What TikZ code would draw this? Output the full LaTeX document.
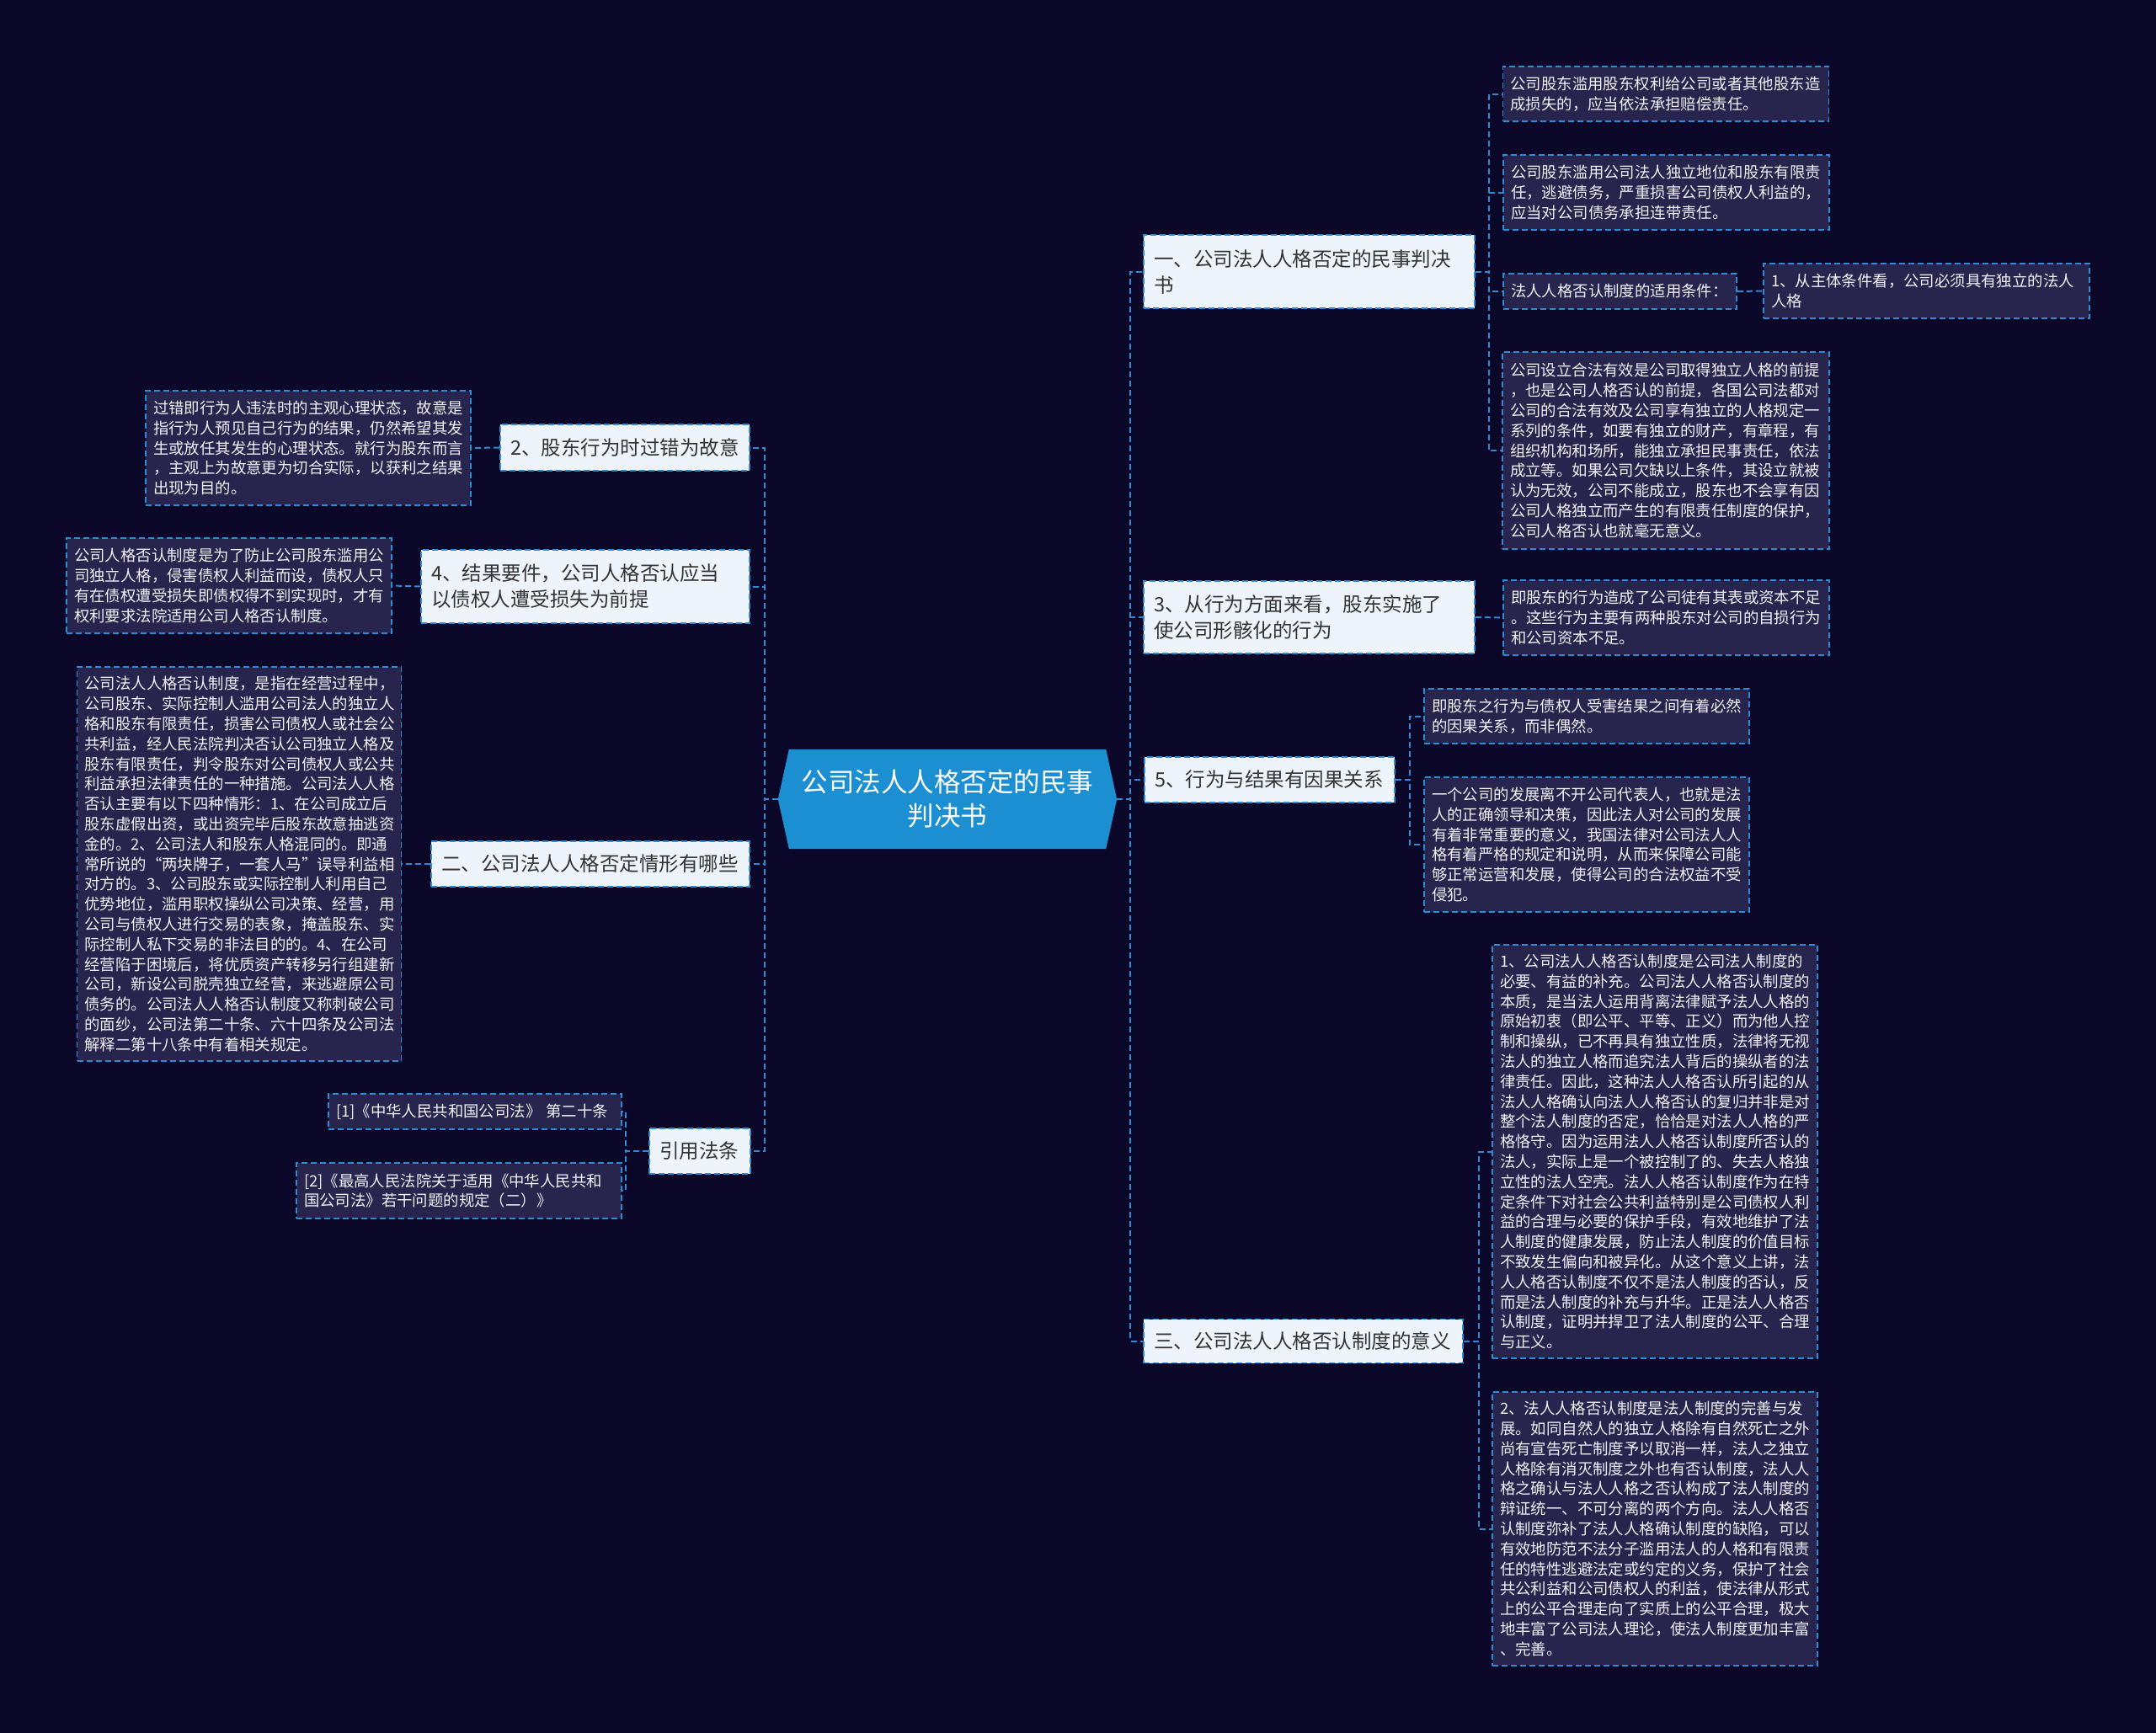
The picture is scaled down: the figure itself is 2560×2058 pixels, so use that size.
\documentclass[tikz,border=0pt]{standalone}
\usepackage{fontspec}
\newfontfamily\cjk{Noto Sans CJK SC}
\usetikzlibrary{calc,backgrounds}
\definecolor{bgc}{HTML}{0A0729}
\definecolor{leaffill}{HTML}{27244E}
\definecolor{edgec}{HTML}{2E8BD6}
\definecolor{branchfill}{HTML}{EEF4FC}
\definecolor{rootfill}{HTML}{1B8FD2}
\definecolor{darktext}{HTML}{333333}
\definecolor{lighttext}{HTML}{F2F2F7}
\tikzset{
  conn/.style={draw=edgec, line width=2pt, dash pattern=on 7pt off 4pt},
  leaf/.style={draw=edgec, fill=leaffill, line width=1.8pt, dash pattern=on 7pt off 4pt,
    text=lighttext, font=\cjk\fontsize{18.4}{23.8}\selectfont, align=left,
    inner xsep=9pt, inner ysep=0pt, anchor=center},
  branch/.style={draw=edgec, fill=branchfill, line width=1.8pt, dash pattern=on 7pt off 4pt,
    text=darktext, font=\cjk\fontsize{23.5}{31}\selectfont, align=left,
    inner xsep=12pt, inner ysep=0pt, anchor=center},
  rootnode/.style={text=white, font=\cjk\fontsize{31.5}{40}\selectfont, align=center,
    minimum width=402pt, minimum height=118pt, inner sep=0pt, anchor=center},
}
\begin{document}
\begin{tikzpicture}[x=1pt,y=-1pt]
\useasboundingbox (0,0) rectangle (2560,2058);
\begin{scope}[on background layer]
\fill[bgc] (0,0) rectangle (2560,2058);
\end{scope}

% root
\node[rootnode] (root) at (1125,949) {公司法人人格否定的民事\\判决书};
\begin{scope}[on background layer]
\fill[rootfill] (root.west) -- ($(root.north west)+(13,0)$) -- ($(root.north east)+(-13,0)$)
  -- (root.east) -- ($(root.south east)+(-13,0)$) -- ($(root.south west)+(13,0)$) -- cycle;
\end{scope}

% right branches
\node[branch, text width=369pt, minimum height=87pt] (n1) at (1554.5,322.5) {一、公司法人人格否定的民事判决\\书};
\node[branch, text width=369pt, minimum height=86pt] (n3) at (1554.5,733) {3、从行为方面来看，股东实施了\\使公司形骸化的行为};
\node[branch, text width=273pt, minimum height=54pt] (n5) at (1507.5,926) {5、行为与结果有因果关系};
\node[branch, text width=355pt, minimum height=52pt] (n6) at (1547.5,1592.5) {三、公司法人人格否认制度的意义};

% left branches
\node[branch, text width=272pt, minimum height=55pt] (n2) at (742,531.5) {2、股东行为时过错为故意};
\node[branch, text width=366pt, minimum height=87pt] (n4) at (695,696.5) {4、结果要件，公司人格否认应当\\以债权人遭受损失为前提};
\node[branch, text width=354pt, minimum height=54pt] (n7) at (701,1026) {二、公司法人人格否定情形有哪些};
\node[branch, text width=96pt, minimum height=54pt] (n8) at (831,1367) {引用法条};

% leaves right
\node[leaf, text width=369pt, minimum height=65pt] (lA) at (1978,111.5) {公司股东滥用股东权利给公司或者其他股东造\\成损失的，应当依法承担赔偿责任。};
\node[leaf, text width=369pt, minimum height=89pt] (lB) at (1978.5,228.5) {公司股东滥用公司法人独立地位和股东有限责\\任，逃避债务，严重损害公司债权人利益的，\\应当对公司债务承担连带责任。};
\node[leaf, text width=259pt, minimum height=42pt] (lC) at (1923.5,346) {法人人格否认制度的适用条件：};
\node[leaf, text width=369pt, minimum height=65pt] (lD) at (2287.5,345.5) {1、从主体条件看，公司必须具有独立的法人\\人格};
\node[leaf, text width=370pt, minimum height=234pt] (lE) at (1978,535) {公司设立合法有效是公司取得独立人格的前提\\，也是公司人格否认的前提，各国公司法都对\\公司的合法有效及公司享有独立的人格规定一\\系列的条件，如要有独立的财产，有章程，有\\组织机构和场所，能独立承担民事责任，依法\\成立等。如果公司欠缺以上条件，其设立就被\\认为无效，公司不能成立，股东也不会享有因\\公司人格独立而产生的有限责任制度的保护，\\公司人格否认也就毫无意义。};
\node[leaf, text width=369pt, minimum height=89pt] (lF) at (1978.5,733.5) {即股东的行为造成了公司徒有其表或资本不足\\。这些行为主要有两种股东对公司的自损行为\\和公司资本不足。};
\node[leaf, text width=368pt, minimum height=65pt] (lG) at (1884,850.5) {即股东之行为与债权人受害结果之间有着必然\\的因果关系，而非偶然。};
\node[leaf, text width=368pt, minimum height=160pt] (lH) at (1884,1003) {一个公司的发展离不开公司代表人，也就是法\\人的正确领导和决策，因此法人对公司的发展\\有着非常重要的意义，我国法律对公司法人人\\格有着严格的规定和说明，从而来保障公司能\\够正常运营和发展，使得公司的合法权益不受\\侵犯。};
\node[leaf, text width=368pt, minimum height=491pt] (lI) at (1965,1367.5) {1、公司法人人格否认制度是公司法人制度的\\必要、有益的补充。公司法人人格否认制度的\\本质，是当法人运用背离法律赋予法人人格的\\原始初衷（即公平、平等、正义）而为他人控\\制和操纵，已不再具有独立性质，法律将无视\\法人的独立人格而追究法人背后的操纵者的法\\律责任。因此，这种法人人格否认所引起的从\\法人人格确认向法人人格否认的复归并非是对\\整个法人制度的否定，恰恰是对法人人格的严\\格恪守。因为运用法人人格否认制度所否认的\\法人，实际上是一个被控制了的、失去人格独\\立性的法人空壳。法人人格否认制度作为在特\\定条件下对社会公共利益特别是公司债权人利\\益的合理与必要的保护手段，有效地维护了法\\人制度的健康发展，防止法人制度的价值目标\\不致发生偏向和被异化。从这个意义上讲，法\\人人格否认制度不仅不是法人制度的否认，反\\而是法人制度的补充与升华。正是法人人格否\\认制度，证明并捍卫了法人制度的公平、合理\\与正义。};
\node[leaf, text width=368pt, minimum height=325pt] (lJ) at (1965,1815.5) {2、法人人格否认制度是法人制度的完善与发\\展。如同自然人的独立人格除有自然死亡之外\\尚有宣告死亡制度予以取消一样，法人之独立\\人格除有消灭制度之外也有否认制度，法人人\\格之确认与法人人格之否认构成了法人制度的\\辩证统一、不可分离的两个方向。法人人格否\\认制度弥补了法人人格确认制度的缺陷，可以\\有效地防范不法分子滥用法人的人格和有限责\\任的特性逃避法定或约定的义务，保护了社会\\共公利益和公司债权人的利益，使法律从形式\\上的公平合理走向了实质上的公平合理，极大\\地丰富了公司法人理论，使法人制度更加丰富\\、完善。};

% leaves left
\node[leaf, text width=368pt, minimum height=136pt] (lK) at (366,532) {过错即行为人违法时的主观心理状态，故意是\\指行为人预见自己行为的结果，仍然希望其发\\生或放任其发生的心理状态。就行为股东而言\\，主观上为故意更为切合实际，以获利之结果\\出现为目的。};
\node[leaf, text width=368pt, minimum height=113pt] (lL) at (272,695.5) {公司人格否认制度是为了防止公司股东滥用公\\司独立人格，侵害债权人利益而设，债权人只\\有在债权遭受损失即债权得不到实现时，才有\\权利要求法院适用公司人格否认制度。};
\node[leaf, text width=367pt, minimum height=468pt] (lM) at (284,1026) {公司法人人格否认制度，是指在经营过程中，\\公司股东、实际控制人滥用公司法人的独立人\\格和股东有限责任，损害公司债权人或社会公\\共利益，经人民法院判决否认公司独立人格及\\股东有限责任，判令股东对公司债权人或公共\\利益承担法律责任的一种措施。公司法人人格\\否认主要有以下四种情形：1、在公司成立后\\股东虚假出资，或出资完毕后股东故意抽逃资\\金的。2、公司法人和股东人格混同的。即通\\常所说的“两块牌子，一套人马”误导利益相\\对方的。3、公司股东或实际控制人利用自己\\优势地位，滥用职权操纵公司决策、经营，用\\公司与债权人进行交易的表象，掩盖股东、实\\际控制人私下交易的非法目的的。4、在公司\\经营陷于困境后，将优质资产转移另行组建新\\公司，新设公司脱壳独立经营，来逃避原公司\\债务的。公司法人人格否认制度又称刺破公司\\的面纱，公司法第二十条、六十四条及公司法\\解释二第十八条中有着相关规定。};
\node[leaf, text width=330pt, minimum height=42pt] (lN) at (564,1320) {[1]《中华人民共和国公司法》 第二十条};
\node[leaf, text width=368pt, minimum height=66pt] (lO) at (545,1414) {[2]《最高人民法院关于适用《中华人民共和\\国公司法》若干问题的规定（二）》};

% connectors
\draw[conn] (root.east) -- ++(16,0) |- (n1.west);
\draw[conn] (root.east) -- ++(16,0) |- (n3.west);
\draw[conn] (root.east) -- ++(16,0) |- (n5.west);
\draw[conn] (root.east) -- ++(16,0) |- (n6.west);
\draw[conn] (root.west) -- ++(-16,0) |- (n2.east);
\draw[conn] (root.west) -- ++(-16,0) |- (n4.east);
\draw[conn] (root.west) -- ++(-16,0) |- (n7.east);
\draw[conn] (root.west) -- ++(-16,0) |- (n8.east);

\draw[conn] (n1.east) -- ++(16,0) |- (lA.west);
\draw[conn] (n1.east) -- ++(16,0) |- (lB.west);
\draw[conn] (n1.east) -- ++(16,0) |- (lC.west);
\draw[conn] (n1.east) -- ++(16,0) |- (lE.west);
\draw[conn] (lC.east) -- (lD.west);
\draw[conn] (n3.east) -- (lF.west);
\draw[conn] (n5.east) -- ++(17,0) |- (lG.west);
\draw[conn] (n5.east) -- ++(17,0) |- (lH.west);
\draw[conn] (n6.east) -- ++(18,0) |- (lI.west);
\draw[conn] (n6.east) -- ++(18,0) |- (lJ.west);

\draw[conn] (n2.west) -- (lK.east);
\draw[conn] (n4.west) -- (lL.east);
\draw[conn] (n7.west) -- (lM.east);
\draw[conn] (n8.west) -- ++(-27,0) |- (lN.east);
\draw[conn] (n8.west) -- ++(-27,0) |- (lO.east);
\end{tikzpicture}
\end{document}
